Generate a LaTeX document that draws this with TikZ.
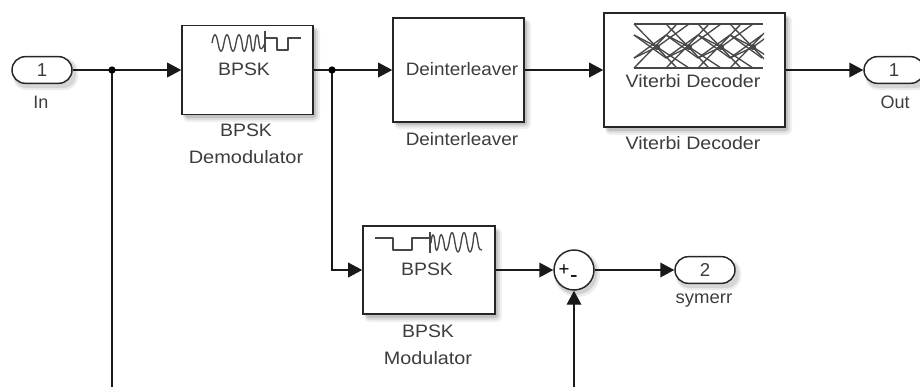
\documentclass[tikz,border=0pt]{standalone}
\usepackage{fontspec}
\usepackage{graphicx}
\setmainfont{Liberation Sans}
\usetikzlibrary{arrows.meta,shapes.misc}
\definecolor{txt}{gray}{0.24}
\newcommand{\wdn}[2]{\scalebox{#1}[1]{#2}}
\tikzset{
 x=0.75pt,y=-0.75pt,
 block/.style={draw=black!85,line width=1.2pt,fill=white,rectangle,inner sep=0pt},
 port/.style={draw=black!85,line width=1.1pt,fill=white,rounded rectangle,minimum width=45pt,minimum height=20pt,inner sep=0pt,font=\fontsize{14}{14}\selectfont,text=txt},
 sumblock/.style={draw=black!85,line width=1.1pt,fill=white,circle,minimum size=30pt,inner sep=0pt},
 lbl/.style={font=\fontsize{13.5}{20}\selectfont,text=txt,align=center,inner sep=0pt},
 wire/.style={line width=1.1pt,draw=black!90},
 arr/.style={wire,-{Triangle[length=10.5pt,width=11pt]}},
 dot/.style={circle,fill=black,inner sep=0pt,minimum size=5.5pt},
 icon/.style={line width=1pt,draw=black!72,line join=round},
 tr/.style={line width=1pt,draw=black!72},
}
% soft shadow of a rectangle (left, top, right, bottom in pixels)
\newcommand{\softrect}[4]{%
 \fill[black!6,rounded corners=4pt] (#1+1,#2+2) rectangle (#3+7,#4+8);
 \fill[black!13,rounded corners=3pt] (#1+2,#2+3) rectangle (#3+5,#4+6);
 \fill[black!24,rounded corners=2pt] (#1+3,#2+4) rectangle (#3+3,#4+4);
}
\newcommand{\softport}[4]{%
 \fill[black!7,rounded corners=10pt] (#1+1,#2+2) rectangle (#3+6,#4+7);
 \fill[black!16,rounded corners=9pt] (#1+2,#2+3) rectangle (#3+4,#4+5);
}
\begin{document}
\begin{tikzpicture}
\useasboundingbox (0,0) rectangle (920,387);
\fill[white] (0,0) rectangle (920,387);
% shadows
\softrect{182}{25}{313}{114}
\softrect{393}{17}{524}{121}
\softrect{604}{13}{785}{127}
\softrect{363}{226}{495}{314}
\softport{12}{56}{72}{83}
\softport{864}{56}{924}{83}
\softport{675}{257}{735}{283}
\fill[black!8] (574+3,270+4) circle (23);
\fill[black!18] (574+2,270+3) circle (21.5);
% blocks
\node[block,minimum width=98.25pt,minimum height=66.75pt] (dem) at (247.5,70) {};
\node[block,minimum width=98.25pt,minimum height=78pt] (dei) at (458.5,70) {};
\node[block,minimum width=135.75pt,minimum height=85.5pt] (vit) at (694.5,70) {};
\node[block,minimum width=99pt,minimum height=66pt] (mod) at (429,270) {};
\node[sumblock] (sum) at (574,270) {};
\node[port] (in) at (42,70) {1};
\node[port] (out) at (894,70) {1};
\node[port] (sym) at (705,270) {2};
% coordinates
\coordinate (j1) at (112,70);
\coordinate (j2) at (332,70);
\coordinate (e1) at (112,387);
\coordinate (e2) at (574,387);
% wires
\draw[arr] (in.east) -- (dem.west);
\draw[arr] (dem.east) -- (dei.west);
\draw[arr] (dei.east) -- (vit.west);
\draw[arr] (vit.east) -- (out.west);
\draw[wire] (j1) -- (e1);
\draw[arr] (j2) |- (mod.west);
\draw[arr] (mod.east) -- (sum.west);
\draw[arr] (sum.east) -- (sym.west);
\draw[arr] (e2) -- (sum.south);
\node[dot] at (j1) {};
\node[dot] at (j2) {};
% labels
\node[lbl] (lin) at (41,102) {In};
\node[lbl] (lout) at (895,102) {Out};
\node[lbl] (lsym) at (704,301) {\wdn{1.03}{symerr}};
\node[lbl] (ldem) at (246,144) {\wdn{1.08}{BPSK}\\\wdn{1.11}{Demodulator}};
\node[lbl] (ldei) at (462,139) {\wdn{1.05}{Deinterleaver}};
\node[lbl] (lvit) at (693,143) {\wdn{1.09}{Viterbi Decoder}};
\node[lbl] (lmod) at (428,345) {\wdn{1.08}{BPSK}\\\wdn{1.1}{Modulator}};
% block text
\node[lbl] (tdem) at (244,69) {\wdn{1.08}{BPSK}};
\node[lbl] (tdei) at (462,69) {\wdn{1.05}{Deinterleaver}};
\node[lbl] (tvit) at (693,81) {\wdn{1.09}{Viterbi Decoder}};
\node[lbl] (tmod) at (427,269) {\wdn{1.08}{BPSK}};
\node[font=\fontsize{14}{14}\selectfont,text=black,inner sep=0pt] at (564,270) {+};
\node[font=\fontsize{17}{17}\selectfont,text=black,inner sep=0pt] at (574,279) {-};
% demod icon
\draw[icon] (212,43) .. controls (214,32) and (216,32) .. (218,43) .. controls (220,54) and (222,54) .. (224,43) .. controls (226,32) and (228,32) .. (230,43) .. controls (232,54) and (234,54) .. (236,43) .. controls (238,32) and (240,32) .. (242,43) .. controls (243,54) and (245,54) .. (247,43) .. controls (248,32) and (250,32) .. (251,43) .. controls (252,54) and (254,54) .. (255,43) .. controls (256,32) and (258,32) .. (259,43) .. controls (260,52) and (262,50) .. (265,43);
\draw[icon] (265,31) -- (265,52);
\draw[icon] (265,38) -- (277,38) -- (277,50) -- (288,50) -- (288,38) -- (301,38);
% mod icon
\draw[icon] (375,238) -- (393,238) -- (393,250) -- (412,250) -- (412,238) -- (430,238);
\draw[icon] (430,232) -- (430,253);
\draw[icon] (431,243) .. controls (432,232) and (434,232) .. (435,243) .. controls (436,253) and (437,253) .. (439,243) .. controls (440,232) and (442,232) .. (444,243) .. controls (445,253) and (447,253) .. (449,243) .. controls (451,229) and (453,229) .. (455,243) .. controls (457,255) and (459,255) .. (461,243) .. controls (463,229) and (465,229) .. (467,243) .. controls (469,255) and (471,255) .. (473,243) .. controls (474,229) and (476,229) .. (478,243) .. controls (479,250) and (480,250) .. (482,250);
% trellis
\begin{scope}
\clip (633,23) rectangle (764,69);
\draw[line width=1.2pt,draw=black!72] (634,24) -- (763,24) (634,68) -- (763,68);
\foreach \h in {657,689,721,753}{
 \draw[tr] (\h-23,24) -- (\h+20,68);
 \draw[tr] (\h-23,68) -- (\h+20,24);
 \draw[tr] (\h-23,35) -- (\h,47) -- (\h+32,24);
 \draw[tr] (\h-23,58) -- (\h,47) -- (\h+32,68);
 \draw[tr] (\h-23,35) -- (\h+9,58);
 \draw[tr] (\h-23,58) -- (\h+9,35);
 \fill[black!72] (\h,47) circle (3);
}
\end{scope}
\end{tikzpicture}
\end{document}
